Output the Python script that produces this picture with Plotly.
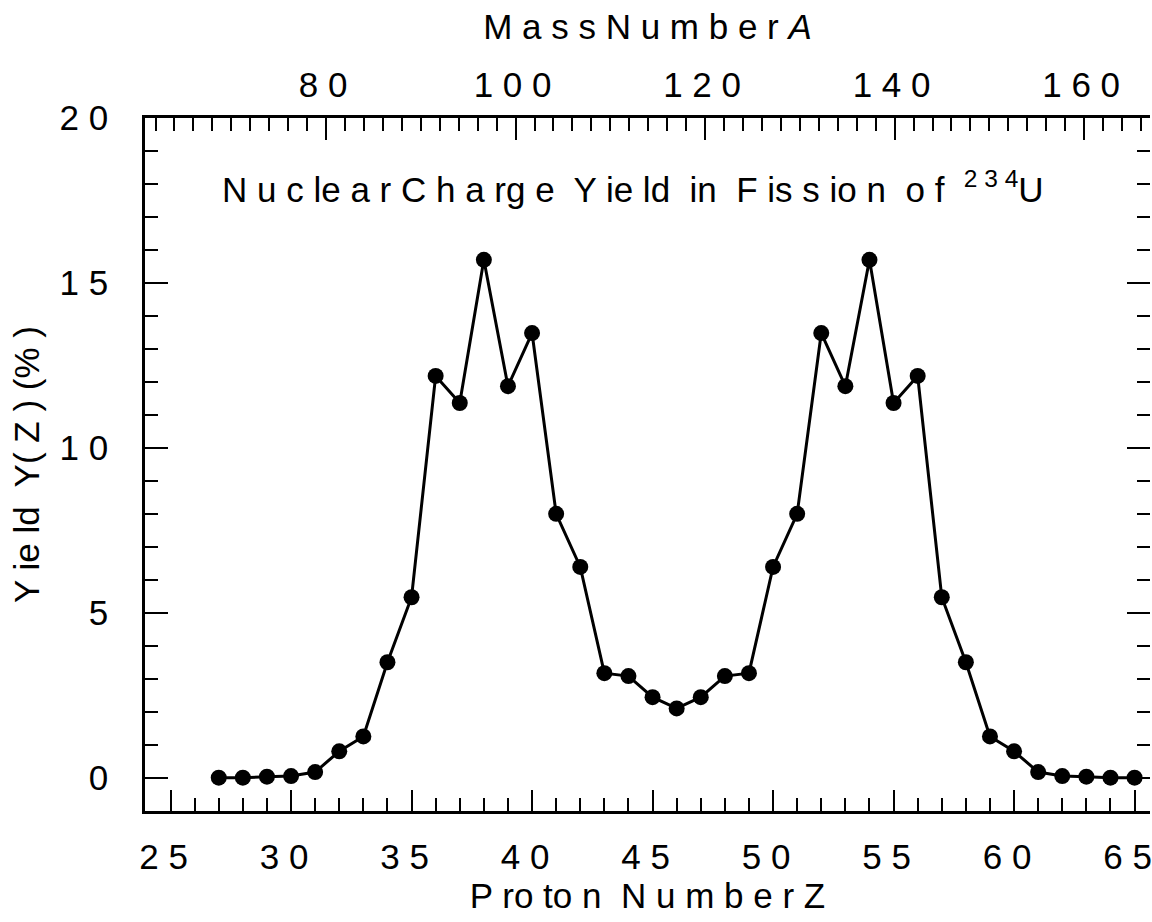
import plotly.graph_objects as go

# Data: proton number Z and charge yield Y(Z) in %
proton_number = list(range(27, 66))
yield_pct = [0.0, 0.0, 0.03, 0.05, 0.17, 0.80, 1.25, 3.50, 5.47, 12.18,
             11.36, 15.70, 11.87, 13.48, 8.00, 6.39, 3.17, 3.08, 2.44, 2.10,
             2.44, 3.08, 3.17, 6.39, 8.00, 13.48, 11.87, 15.70, 11.36, 12.18,
             5.47, 3.50, 1.25, 0.80, 0.17, 0.05, 0.03, 0.0, 0.0]

z_ticks = [25, 30, 35, 40, 45, 50, 55, 60, 65]
z_ticktext = ["2 5", "3 0", "3 5", "4 0", "4 5", "5 0", "5 5", "6 0", "6 5"]
z_minor = list(range(25, 66))
a_ticks = [80, 100, 120, 140, 160]
a_ticktext = ["8 0", "1 0 0", "1 2 0", "1 4 0", "1 6 0"]
a_minor = list(range(62, 168, 2))
y_ticks = [0, 5, 10, 15, 20]
y_ticktext = ["0", "5", "1 0", "1 5", "2 0"]
y_minor = list(range(0, 21))

A_OVER_Z = 234 / 92
mass_number = [z * A_OVER_Z for z in proton_number]
z_range = [23.94, 65.64]
a_range = [z_range[0] * A_OVER_Z, z_range[1] * A_OVER_Z]
y_range = [-1.01, 20]

FONT = "Liberation Sans Narrow, Liberation Sans, Arial, sans-serif"
FS = 35

fig = go.Figure()
fig.add_trace(go.Scatter(
    x=proton_number, y=yield_pct, mode="lines+markers",
    line=dict(color="black", width=3),
    marker=dict(color="black", size=16, symbol="circle"),
    showlegend=False, hoverinfo="x+y"))
# same data on the mass-number axis (invisible) so the top/right axes are drawn
fig.add_trace(go.Scatter(
    x=mass_number, y=yield_pct, xaxis="x2", yaxis="y2", mode="markers",
    marker=dict(opacity=0, size=1), showlegend=False, hoverinfo="skip"))

common_tick = dict(ticks="inside", tickcolor="black", tickwidth=1.8,
                   tickfont=dict(family=FONT, size=FS, color="black"),
                   showgrid=False, zeroline=False, ticklabeloverflow="allow")

fig.update_layout(
    width=1152, height=922,
    margin=dict(l=145, r=0, t=118, b=111),
    paper_bgcolor="white", plot_bgcolor="white",
    font=dict(family=FONT, size=FS, color="black"),
    xaxis=dict(range=z_range, tickvals=z_ticks, ticktext=z_ticktext,
               ticklen=21, showline=True, linecolor="black", linewidth=2.5,
               minor=dict(tickvals=z_minor, ticks="inside", ticklen=13,
                          tickcolor="black", tickwidth=1.5),
               ticklabelstandoff=13, ticklabelshift=-7,
               title=dict(text="P ro to n  N u m b e r Z",
                          font=dict(family=FONT, size=FS), standoff=8),
               **common_tick),
    xaxis2=dict(range=a_range, tickvals=a_ticks, ticktext=a_ticktext,
                overlaying="x", side="top", anchor="y2",
                ticklen=22, showline=True, linecolor="black", linewidth=2.5,
                minor=dict(tickvals=a_minor, ticks="inside", ticklen=13,
                           tickcolor="black", tickwidth=1.5),
                ticklabelstandoff=4, ticklabelshift=-3,
                title=dict(text="M a s s N u m b e r <i>A</i>",
                           font=dict(family=FONT, size=FS), standoff=16),
                **common_tick),
    yaxis=dict(range=y_range, tickvals=y_ticks, ticktext=y_ticktext,
               ticklen=23, showline=True, linecolor="black", linewidth=2.5,
               minor=dict(tickvals=y_minor, ticks="inside", ticklen=13,
                          tickcolor="black", tickwidth=1.5),
               ticklabelstandoff=27,
               title=dict(text="Y ie ld  Y( Z ) (% )",
                          font=dict(family=FONT, size=FS), standoff=10),
               **common_tick),
    yaxis2=dict(range=y_range, tickvals=y_ticks, overlaying="y", side="right",
                anchor="x2", showline=False, showticklabels=False,
                ticklen=23,
                minor=dict(tickvals=y_minor, ticks="inside", ticklen=13,
                           tickcolor="black", tickwidth=1.5),
                ticks="inside", tickcolor="black", tickwidth=1.8,
                showgrid=False, zeroline=False),
)

fig.add_annotation(
    text="N u c le a r C h a rg e  Y ie ld  in  F is s io n  o f  <sup>2 3 4</sup>U",
    xref="paper", yref="paper", x=0.4856, y=0.9, xanchor="center", yanchor="middle",
    showarrow=False, font=dict(family=FONT, size=FS, color="black"))

fig.write_html("out.html", config={"displayModeBar": False},
               post_script="document.body.style.margin='0';document.body.style.padding='0';")
